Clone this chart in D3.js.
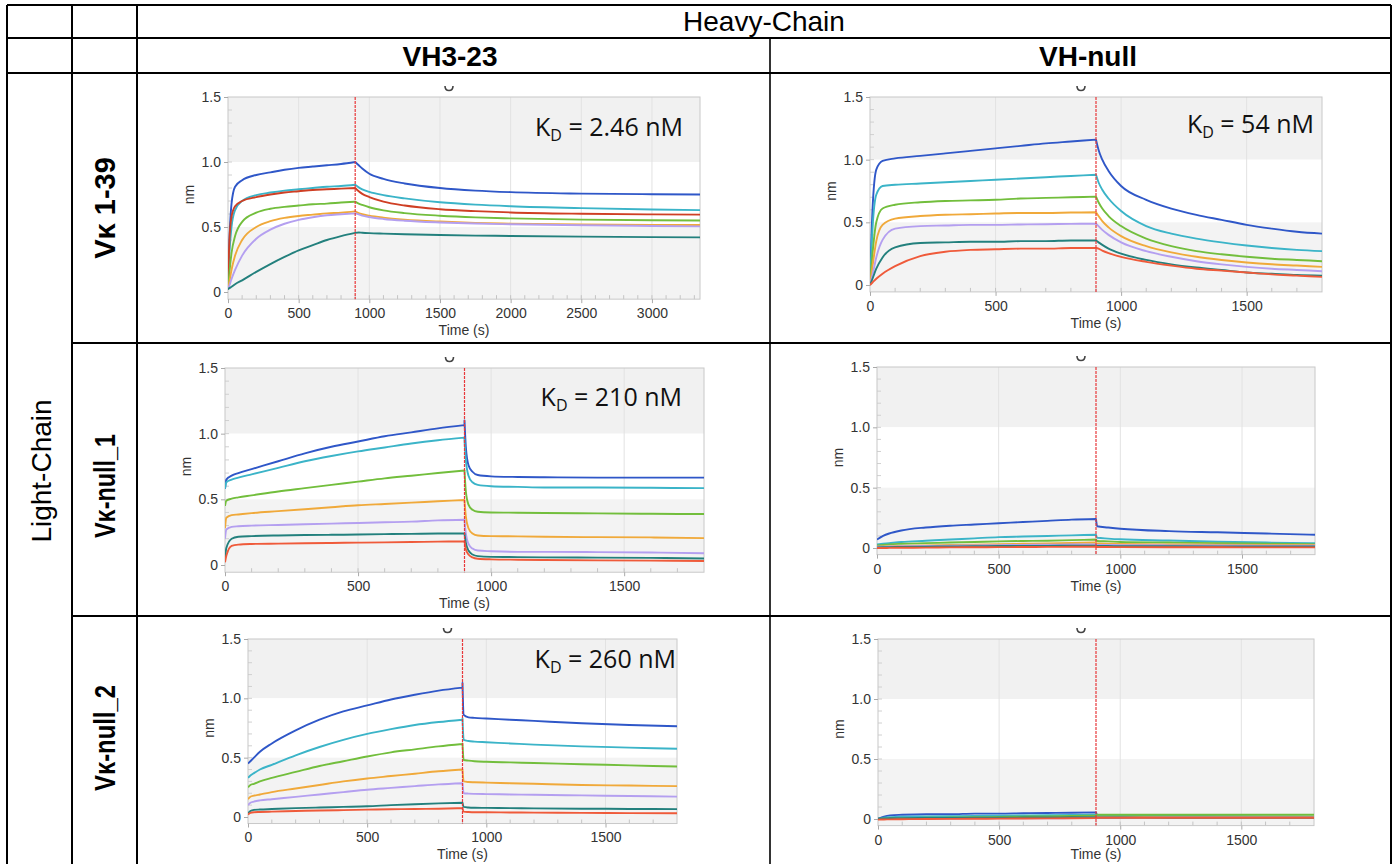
<!DOCTYPE html>
<html><head><meta charset="utf-8">
<script src="https://cdn.jsdelivr.net/npm/d3@7"></script>
<style>body{margin:0;background:#fff} svg{display:block}</style>
</head><body>
<script>
// ---------------- DATA ----------------
const colHeaders = ["VH3-23", "VH-null"];
const rowHeaders = ["Vκ 1-39", "Vκ-null_1", "Vκ-null_2"];
const topHeader = "Heavy-Chain";
const sideHeader = "Light-Chain";
const kdValues = ["2.46 nM", "54 nM", "210 nM", null, "260 nM", null];

const yTicks = [0, 0.5, 1.0, 1.5];
const yTickLabels = ["0", "0.5", "1.0", "1.5"];
const xTicksLong = [0, 500, 1000, 1500, 2000, 2500, 3000];
const xTicksShort = [0, 500, 1000, 1500];

// Panel A: VH3-23 x Vk1-39 (association then dissociation; 900 s appears twice)
const A_time = [0,10,25,50,100,200,300,400,500,600,700,800,900, 900,925,950,1000,1100,1250,1500,1750,2000,2500,3000,3340];
const A_blue     = [0.03,0.40,0.68,0.81,0.86,0.90,0.92,0.94,0.955,0.965,0.975,0.985,1.0, 1.0,0.975,0.95,0.91,0.87,0.835,0.80,0.78,0.768,0.757,0.752,0.75];
const A_cyan     = [0.03,0.30,0.50,0.63,0.70,0.745,0.765,0.78,0.79,0.80,0.81,0.815,0.825, 0.825,0.805,0.79,0.77,0.745,0.72,0.69,0.672,0.66,0.645,0.635,0.63];
const A_red      = [0.03,0.40,0.58,0.66,0.70,0.73,0.75,0.765,0.775,0.785,0.79,0.795,0.80, 0.80,0.775,0.755,0.73,0.695,0.665,0.637,0.622,0.612,0.602,0.597,0.595];
const A_green    = [0.02,0.15,0.30,0.43,0.54,0.61,0.64,0.655,0.665,0.675,0.68,0.688,0.695, 0.695,0.68,0.67,0.652,0.628,0.607,0.587,0.574,0.566,0.557,0.552,0.55];
const A_orange   = [0.02,0.08,0.17,0.28,0.40,0.50,0.545,0.57,0.585,0.595,0.605,0.61,0.62, 0.62,0.607,0.598,0.587,0.572,0.557,0.542,0.532,0.526,0.52,0.516,0.515];
const A_lavender = [0.02,0.05,0.10,0.17,0.28,0.41,0.48,0.525,0.555,0.575,0.59,0.598,0.605, 0.605,0.597,0.588,0.577,0.562,0.548,0.535,0.527,0.521,0.513,0.508,0.505];
const A_teal     = [0.02,0.03,0.04,0.06,0.09,0.155,0.215,0.27,0.32,0.36,0.40,0.43,0.455, 0.455,0.458,0.456,0.453,0.449,0.444,0.438,0.434,0.431,0.426,0.422,0.42];

// Panel B: VH-null x Vk1-39
const B_time = [0,10,25,50,100,200,300,400,500,600,700,800,900, 900,910,925,950,1000,1100,1200,1300,1400,1500,1600,1700,1800];
const B_blue     = [0.0,0.60,0.92,0.99,1.01,1.03,1.05,1.07,1.09,1.11,1.13,1.145,1.16, 1.16,1.08,1.0,0.91,0.79,0.68,0.61,0.56,0.52,0.48,0.45,0.425,0.41];
const B_cyan     = [0.0,0.45,0.72,0.79,0.80,0.81,0.82,0.83,0.84,0.85,0.86,0.87,0.88, 0.88,0.82,0.76,0.69,0.59,0.47,0.41,0.37,0.34,0.315,0.295,0.28,0.27];
const B_green    = [0.0,0.25,0.50,0.61,0.64,0.66,0.67,0.675,0.68,0.69,0.695,0.70,0.705, 0.705,0.66,0.61,0.55,0.47,0.37,0.31,0.27,0.245,0.225,0.21,0.20,0.19];
const B_orange   = [0.0,0.15,0.35,0.48,0.53,0.55,0.56,0.565,0.57,0.575,0.575,0.578,0.58, 0.58,0.55,0.51,0.46,0.39,0.31,0.26,0.225,0.20,0.18,0.165,0.155,0.145];
const B_lavender = [0.0,0.08,0.22,0.36,0.45,0.47,0.475,0.48,0.48,0.483,0.485,0.488,0.49, 0.49,0.47,0.44,0.40,0.34,0.27,0.225,0.19,0.165,0.145,0.13,0.12,0.11];
const B_teal     = [0.0,0.05,0.13,0.22,0.30,0.335,0.34,0.345,0.345,0.35,0.35,0.355,0.355, 0.355,0.34,0.32,0.29,0.25,0.20,0.165,0.14,0.12,0.10,0.09,0.08,0.075];
const B_red      = [0.0,0.02,0.05,0.09,0.15,0.23,0.265,0.28,0.285,0.29,0.29,0.295,0.295, 0.295,0.29,0.275,0.255,0.225,0.185,0.155,0.13,0.115,0.10,0.085,0.075,0.065];

// Panel C: VH3-23 x Vk-null_1
const C_time = [0,5,25,50,100,200,300,400,500,600,700,800,900, 900,905,915,930,950,1000,1100,1200,1400,1600,1800];
const C_blue     = [0.58,0.65,0.68,0.70,0.73,0.79,0.85,0.90,0.94,0.98,1.01,1.04,1.065, 1.10,0.90,0.76,0.71,0.685,0.675,0.67,0.668,0.665,0.665,0.665];
const C_cyan     = [0.58,0.63,0.65,0.665,0.69,0.74,0.79,0.83,0.865,0.895,0.925,0.95,0.97, 0.95,0.80,0.68,0.63,0.61,0.60,0.595,0.59,0.59,0.588,0.585];
const C_green    = [0.45,0.49,0.505,0.515,0.53,0.56,0.585,0.61,0.635,0.66,0.68,0.70,0.72, 0.72,0.56,0.46,0.42,0.405,0.40,0.398,0.396,0.393,0.39,0.388];
const C_orange   = [0.28,0.36,0.38,0.385,0.395,0.41,0.425,0.44,0.455,0.465,0.475,0.485,0.495, 0.49,0.37,0.28,0.24,0.225,0.22,0.218,0.215,0.212,0.21,0.205];
const C_lavender = [0.20,0.27,0.29,0.295,0.30,0.305,0.31,0.315,0.32,0.325,0.33,0.34,0.345, 0.34,0.24,0.16,0.125,0.11,0.105,0.10,0.10,0.098,0.095,0.09];
const C_teal     = [0.05,0.13,0.20,0.215,0.22,0.225,0.228,0.23,0.232,0.235,0.237,0.24,0.24, 0.24,0.17,0.11,0.08,0.068,0.062,0.06,0.058,0.056,0.054,0.05];
const C_red      = [0.02,0.07,0.145,0.155,0.16,0.163,0.166,0.168,0.17,0.172,0.175,0.178,0.18, 0.18,0.12,0.08,0.058,0.048,0.043,0.04,0.038,0.035,0.033,0.03];

// Panel D: VH-null x Vk-null_1
const D_time = [0,25,50,100,200,300,400,500,600,700,800,900, 900,905,950,1000,1200,1400,1600,1800];
const D_blue     = [0.07,0.10,0.12,0.145,0.17,0.185,0.195,0.205,0.215,0.225,0.235,0.24, 0.24,0.18,0.17,0.16,0.14,0.13,0.12,0.11];
const D_cyan     = [0.03,0.035,0.04,0.05,0.06,0.07,0.08,0.09,0.095,0.10,0.105,0.11, 0.11,0.085,0.078,0.072,0.062,0.052,0.045,0.04];
const D_green    = [0.02,0.025,0.03,0.035,0.04,0.045,0.05,0.055,0.058,0.06,0.065,0.07, 0.07,0.058,0.055,0.05,0.045,0.04,0.035,0.03];
const D_orange   = [0.01,0.012,0.015,0.018,0.022,0.025,0.028,0.032,0.035,0.038,0.042,0.045, 0.045,0.038,0.036,0.034,0.03,0.028,0.026,0.025];
const D_lavender = [0.01,0.01,0.012,0.014,0.017,0.02,0.022,0.024,0.026,0.027,0.029,0.03, 0.03,0.026,0.025,0.024,0.022,0.021,0.02,0.02];
const D_teal     = [0.005,0.006,0.007,0.009,0.011,0.013,0.015,0.016,0.017,0.018,0.019,0.02, 0.02,0.017,0.016,0.015,0.014,0.013,0.012,0.012];
const D_red      = [0.0,0.0,0.001,0.002,0.003,0.005,0.006,0.007,0.008,0.009,0.01,0.01, 0.01,0.008,0.008,0.007,0.006,0.006,0.005,0.005];

// Panel E: VH3-23 x Vk-null_2
const E_time = [0,10,25,50,100,200,300,400,500,600,700,800,900, 900,905,925,950,1000,1100,1200,1400,1600,1800];
const E_blue     = [0.45,0.47,0.50,0.55,0.62,0.73,0.82,0.89,0.94,0.99,1.03,1.065,1.09, 1.13,0.86,0.84,0.835,0.83,0.82,0.81,0.79,0.775,0.765];
const E_cyan     = [0.33,0.35,0.37,0.40,0.44,0.52,0.59,0.65,0.70,0.74,0.775,0.80,0.82, 0.83,0.65,0.64,0.635,0.63,0.62,0.61,0.595,0.585,0.575];
const E_green    = [0.25,0.27,0.28,0.30,0.33,0.38,0.43,0.47,0.51,0.545,0.57,0.595,0.615, 0.62,0.48,0.475,0.47,0.465,0.46,0.455,0.445,0.435,0.425];
const E_orange   = [0.15,0.17,0.18,0.19,0.21,0.24,0.27,0.30,0.325,0.345,0.365,0.385,0.40, 0.40,0.30,0.295,0.293,0.29,0.285,0.28,0.27,0.265,0.26];
const E_lavender = [0.10,0.12,0.13,0.14,0.15,0.17,0.19,0.21,0.23,0.245,0.26,0.275,0.285, 0.285,0.20,0.197,0.195,0.193,0.19,0.187,0.182,0.177,0.172];
const E_teal     = [0.03,0.05,0.06,0.063,0.067,0.075,0.08,0.085,0.09,0.10,0.108,0.115,0.12, 0.12,0.085,0.08,0.078,0.077,0.075,0.073,0.07,0.068,0.066];
const E_red      = [0.02,0.035,0.04,0.042,0.045,0.05,0.055,0.058,0.062,0.065,0.068,0.07,0.075, 0.075,0.045,0.042,0.04,0.04,0.038,0.037,0.035,0.033,0.032];

// Panel F: VH-null x Vk-null_2
const F_time = [0,25,50,100,200,300,400,500,600,700,800,900, 900,905,950,1000,1200,1400,1600,1800];
const F_blue     = [0.0,0.02,0.03,0.035,0.04,0.04,0.045,0.045,0.048,0.05,0.052,0.055, 0.055,0.035,0.033,0.03,0.025,0.02,0.018,0.015];
const F_cyan     = [0.0,0.01,0.015,0.02,0.022,0.024,0.026,0.028,0.03,0.032,0.034,0.036, 0.036,0.03,0.028,0.027,0.025,0.024,0.022,0.02];
const F_green    = [0.0,0.002,0.004,0.006,0.01,0.012,0.015,0.017,0.02,0.022,0.025,0.03, 0.03,0.035,0.035,0.035,0.035,0.035,0.035,0.035];
const F_orange   = [0.0,0.0,0.002,0.003,0.005,0.006,0.007,0.008,0.009,0.01,0.011,0.012, 0.012,0.015,0.015,0.016,0.017,0.018,0.018,0.018];
const F_lavender = [0.0,0.0,0.001,0.002,0.003,0.004,0.005,0.005,0.006,0.006,0.007,0.008, 0.008,0.01,0.01,0.011,0.012,0.012,0.012,0.012];
const F_teal     = [0.005,0.005,0.006,0.007,0.008,0.009,0.01,0.011,0.012,0.013,0.014,0.015, 0.015,0.012,0.012,0.012,0.011,0.011,0.01,0.01];
const F_red      = [-0.005,-0.004,-0.003,-0.002,0.0,0.001,0.002,0.003,0.004,0.005,0.006,0.007, 0.007,0.01,0.01,0.01,0.01,0.01,0.01,0.01];

// ---------------- STYLE ----------------
const colorsA   = ["#2f57c8","#3bb4c8","#cf3f24","#72be3c","#f0a93a","#b49ff0","#23807d"];
const colorsStd = ["#2f57c8","#3bb4c8","#72be3c","#f0a93a","#b49ff0","#23807d","#ef5a3a"];

const W = 1392, H = 864;
const FONT = "'Liberation Sans', Arial, sans-serif";
const svg = d3.select("body").append("svg").attr("width", W).attr("height", H)
  .style("font-family", FONT);
svg.append("rect").attr("width", W).attr("height", H).attr("fill", "#fff");

// panels (layout only)
const panels = [
  {time:A_time, series:[A_blue,A_cyan,A_red,A_green,A_orange,A_lavender,A_teal], colors:colorsA, tmax:3340, xticks:xTicksLong,
   xL:228, xR:700, y0:292, y15:97, kd:kdValues[0], kdx:683, kdy:136},
  {time:B_time, series:[B_blue,B_cyan,B_green,B_orange,B_lavender,B_teal,B_red], colors:colorsStd, tmax:1800, xticks:xTicksShort,
   xL:870, xR:1322, y0:285, y15:97, kd:kdValues[1], kdx:1314, kdy:133},
  {time:C_time, series:[C_blue,C_cyan,C_green,C_orange,C_lavender,C_teal,C_red], colors:colorsStd, tmax:1800, xticks:xTicksShort,
   xL:225, xR:704, y0:565, y15:368, kd:kdValues[2], kdx:682, kdy:406},
  {time:D_time, series:[D_blue,D_cyan,D_green,D_orange,D_lavender,D_teal,D_red], colors:colorsStd, tmax:1800, xticks:xTicksShort,
   xL:877, xR:1315, y0:548, y15:367, kd:kdValues[3]},
  {time:E_time, series:[E_blue,E_cyan,E_green,E_orange,E_lavender,E_teal,E_red], colors:colorsStd, tmax:1800, xticks:xTicksShort,
   xL:248, xR:677, y0:817, y15:639, kd:kdValues[4], kdx:676, kdy:668},
  {time:F_time, series:[F_blue,F_cyan,F_green,F_orange,F_lavender,F_teal,F_red], colors:colorsStd, tmax:1800, xticks:xTicksShort,
   xL:878, xR:1314, y0:819, y15:639, kd:kdValues[5]}
];

panels.forEach((p, idx) => drawPanel(p, idx));

function drawPanel(p, idx) {
  const x = d3.scaleLinear().domain([0, p.tmax]).range([p.xL, p.xR]);
  const y = d3.scaleLinear().domain([0, 1.5]).range([p.y0, p.y15]);
  const yb = y(-0.055);
  const g = svg.append("g");
  const cid = "clip" + idx;
  g.append("clipPath").attr("id", cid).append("rect")
    .attr("x", p.xL).attr("y", p.y15).attr("width", p.xR - p.xL).attr("height", yb - p.y15);

  // background bands
  const bands = [[1.0, 1.5, "#f1f1f1"], [0.5, 1.0, "#ffffff"], [-0.055, 0.5, "#f3f3f3"]];
  bands.forEach(b => g.append("rect").attr("x", p.xL).attr("width", p.xR - p.xL)
    .attr("y", y(b[1])).attr("height", y(b[0]) - y(b[1])).attr("fill", b[2]));

  // vertical grid
  const grid = d3.range(500, p.tmax, 500);
  g.selectAll(".vg").data(grid).join("line")
    .attr("x1", d => x(d)).attr("x2", d => x(d)).attr("y1", p.y15).attr("y2", yb)
    .attr("stroke", "#e2e2e2").attr("stroke-width", 1);

  // minor ticks inside
  const minorX = d3.range(100, p.tmax, 100);
  g.selectAll(".mx").data(minorX).join("line")
    .attr("x1", d => x(d)).attr("x2", d => x(d)).attr("y1", yb).attr("y2", yb - 4)
    .attr("stroke", "#c4c4c4");
  const minorY = d3.range(0.1, 1.5, 0.1);
  g.selectAll(".my").data(minorY).join("line")
    .attr("x1", p.xL).attr("x2", p.xL + 4).attr("y1", d => y(d)).attr("y2", d => y(d))
    .attr("stroke", "#d0d0d0");

  // frame
  g.append("rect").attr("x", p.xL).attr("y", p.y15).attr("width", p.xR - p.xL).attr("height", yb - p.y15)
    .attr("fill", "none").attr("stroke", "#c8c8c8");

  // axes
  const yAxis = d3.axisLeft(y).tickValues(yTicks).tickFormat((d, i) => yTickLabels[i]).tickSize(4).tickPadding(3);
  const ya = g.append("g").attr("transform", `translate(${p.xL},0)`).call(yAxis);
  ya.select(".domain").remove();
  ya.selectAll("line").attr("stroke", "#aaa");
  ya.selectAll("text").attr("font-size", 14).attr("fill", "#333").attr("font-family", FONT);

  const xAxis = d3.axisBottom(x).tickValues(p.xticks).tickSize(4).tickPadding(5).tickFormat(d3.format("d"));
  const xa = g.append("g").attr("transform", `translate(0,${yb})`).call(xAxis);
  xa.select(".domain").remove();
  xa.selectAll("line").attr("stroke", "#aaa");
  xa.selectAll("text").attr("font-size", 14).attr("fill", "#333").attr("font-family", FONT);

  g.append("text").attr("x", (p.xL + p.xR) / 2).attr("y", Math.min(yb + 36, 859)).attr("text-anchor", "middle")
    .attr("font-size", 14).attr("fill", "#333").text("Time (s)");
  g.append("text").attr("transform", `translate(${p.xL - 34},${(p.y0 + p.y15) / 2}) rotate(-90)`)
    .attr("text-anchor", "middle").attr("font-size", 14).attr("fill", "#333").text("nm");

  // title fragment mark
  const mx = (p.xL + p.xR) / 2 - 15, my = p.y15 - 8;
  g.append("path").attr("d", `M${mx - 4},${my - 3} C${mx - 4},${my + 3} ${mx + 4},${my + 3} ${mx + 4},${my - 3}`)
    .attr("fill", "none").attr("stroke", "#444").attr("stroke-width", 1.6);

  // series
  const line = d3.line().x(d => x(d[0])).y(d => y(d[1])).curve(d3.curveMonotoneX);
  const k = p.time.findIndex((t, i) => i > 0 && t === p.time[i - 1]);
  const lg = g.append("g").attr("clip-path", `url(#${cid})`);
  p.series.forEach((vals, si) => {
    const pts = p.time.map((t, i) => [t, vals[i]]);
    const a = pts.slice(0, k), b = pts.slice(k);
    const d = line(a) + line(b).replace(/^M/, "L");
    lg.append("path").attr("d", d).attr("fill", "none").attr("stroke", p.colors[si])
      .attr("stroke-width", 1.9).attr("stroke-linejoin", "round");
  });

  // red dotted line at end of association
  g.append("line").attr("x1", x(900)).attr("x2", x(900)).attr("y1", p.y15).attr("y2", yb)
    .attr("stroke", "#e8383a").attr("stroke-width", 1.2).attr("stroke-dasharray", "3,1");

  // KD label
  if (p.kd) {
    const t = g.append("text").attr("x", p.kdx).attr("y", p.kdy).attr("text-anchor", "end")
      .attr("font-family", "'Open Sans', 'Noto Sans', sans-serif").attr("font-size", 25).attr("fill", "#111");
    t.append("tspan").text("K");
    t.append("tspan").attr("dy", 5).attr("font-size", 16).text("D");
    t.append("tspan").attr("dy", -5).text(" = " + p.kd);
  }
}

// ---------------- TABLE ----------------
const tx = [7, 72, 137, 770, 1391];
const ty = [5, 38, 73, 343, 616];
const tg = svg.append("g").attr("stroke", "#000").attr("stroke-width", 2);
// horizontal
tg.append("line").attr("x1", tx[0]).attr("x2", tx[4]).attr("y1", ty[0]).attr("y2", ty[0]);
tg.append("line").attr("x1", tx[0]).attr("x2", tx[4]).attr("y1", ty[1]).attr("y2", ty[1]);
tg.append("line").attr("x1", tx[0]).attr("x2", tx[4]).attr("y1", ty[2]).attr("y2", ty[2]);
tg.append("line").attr("x1", tx[1]).attr("x2", tx[4]).attr("y1", ty[3]).attr("y2", ty[3]);
tg.append("line").attr("x1", tx[1]).attr("x2", tx[4]).attr("y1", ty[4]).attr("y2", ty[4]);
// vertical
tg.append("line").attr("x1", tx[0]).attr("x2", tx[0]).attr("y1", ty[0]).attr("y2", H);
tg.append("line").attr("x1", tx[1]).attr("x2", tx[1]).attr("y1", ty[0]).attr("y2", H);
tg.append("line").attr("x1", tx[2]).attr("x2", tx[2]).attr("y1", ty[0]).attr("y2", H);
tg.append("line").attr("x1", tx[3]).attr("x2", tx[3]).attr("y1", ty[1]).attr("y2", H).attr("stroke-width", 1.6);
tg.append("line").attr("x1", tx[4]).attr("x2", tx[4]).attr("y1", ty[0]).attr("y2", H);

// header texts
svg.append("text").attr("x", (tx[2] + tx[4]) / 2).attr("y", 31).attr("text-anchor", "middle")
  .attr("font-size", 28).attr("fill", "#000").text(topHeader);
svg.append("text").attr("x", 450).attr("y", 66).attr("text-anchor", "middle")
  .attr("font-size", 28).attr("font-weight", "bold").attr("fill", "#000").text(colHeaders[0]);
svg.append("text").attr("x", 1088).attr("y", 66).attr("text-anchor", "middle")
  .attr("font-size", 28).attr("font-weight", "bold").attr("fill", "#000").text(colHeaders[1]);
svg.append("text").attr("transform", `translate(41,471) rotate(-90)`).attr("text-anchor", "middle")
  .attr("dominant-baseline", "central").attr("font-size", 28).attr("fill", "#000").text(sideHeader);
const rowCenters = [208, 486, 738];
const rowLengths = [null, 104, 106];
rowHeaders.forEach((r, i) => {
  const t = svg.append("text").attr("transform", `translate(105,${rowCenters[i]}) rotate(-90)`).attr("text-anchor", "middle")
    .attr("dominant-baseline", "central").attr("font-size", 29).attr("font-weight", "bold").attr("fill", "#000").text(r);
  if (rowLengths[i]) t.attr("textLength", rowLengths[i]).attr("lengthAdjust", "spacingAndGlyphs");
});
</script>
</body></html>
